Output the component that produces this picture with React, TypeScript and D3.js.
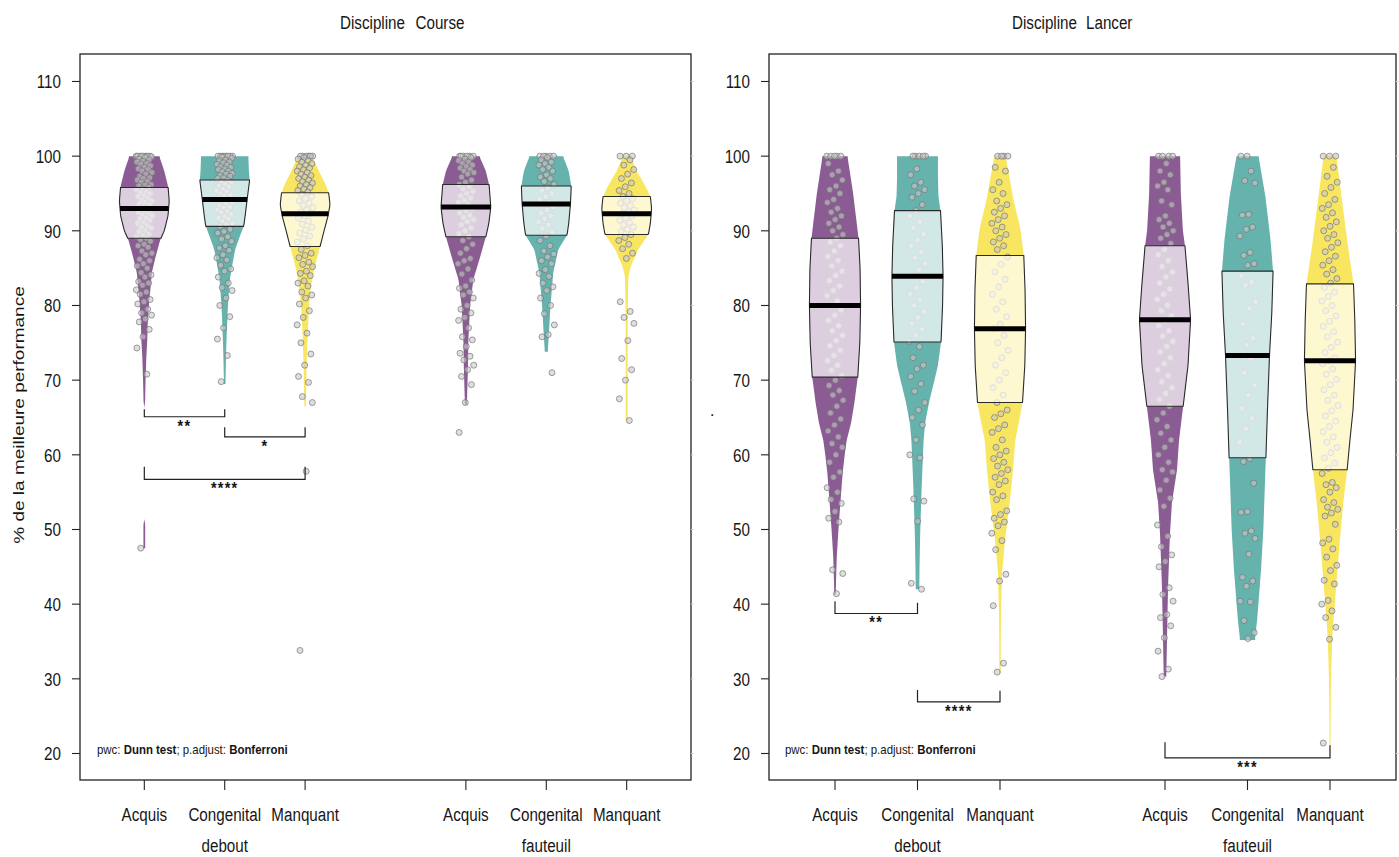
import React from "react";
import * as d3 from "d3";

const PANELS = ["Course", "Lancer"];
const POSTURES = ["debout", "fauteuil"];
const CATEGORIES = ["Acquis", "Congenital", "Manquant"];
const Y_TICKS = [20, 30, 40, 50, 60, 70, 80, 90, 100, 110];
const COLORS = ["#8A5C93", "#66B3AE", "#F9E660"];

// [q1, median, q3] for debout Acquis/Congenital/Manquant then fauteuil Acquis/Congenital/Manquant
const courseQuartiles = [
  [89.0, 93.0, 95.8], [90.6, 94.2, 96.8], [87.9, 92.3, 95.1],
  [89.2, 93.2, 96.2], [89.4, 93.6, 96.0], [89.5, 92.3, 94.6],
];
const lancerQuartiles = [
  [70.4, 80.0, 89.0], [75.1, 83.9, 92.7], [67.0, 76.9, 86.7],
  [66.5, 78.1, 88.0], [59.6, 73.3, 84.6], [58.0, 72.6, 82.9],
];

// relative density profiles [value, density]
const courseDeboutAcquisDensity = [[100,0.6],[98,0.8],[96,0.95],[94,1.0],[92,0.95],[90,0.8],[88.8,0.64],[86.5,0.45],[84.4,0.3],[82,0.24],[80.8,0.2],[78,0.14],[75.5,0.12],[73,0.08],[70,0.05],[67,0.03],[66.4,0],[51.2,0],[50.8,0.035],[47.5,0.035]];
const courseDeboutCongenitalDensity = [[100,0.95],[98,0.97],[96.8,1.0],[94.2,0.9],[92,0.82],[90.6,0.76],[89,0.58],[87.5,0.42],[85,0.28],[83.5,0.21],[80,0.13],[77,0.09],[74,0.06],[71,0.04],[69.5,0.03]];
const courseDeboutManquantDensity = [[100,0.28],[98,0.55],[96,0.85],[95,0.95],[93.5,1.0],[92,0.92],[90,0.76],[87.9,0.6],[86,0.45],[84.4,0.33],[82,0.22],[80,0.16],[76,0.1],[72,0.06],[68,0.04],[66.5,0.03]];
const courseFauteuilAcquisDensity = [[100,0.54],[98,0.8],[96.2,0.93],[93.2,1.0],[91,0.92],[89.2,0.8],[86.6,0.58],[83.5,0.3],[80,0.17],[75.4,0.1],[71.4,0.08],[68,0.05],[66.7,0.04]];
const courseFauteuilCongenitalDensity = [[100,0.67],[98,0.9],[96,1.0],[93.6,0.97],[91,0.9],[89.4,0.83],[87.5,0.48],[84.4,0.28],[80,0.17],[76,0.1],[73.8,0.06]];
const courseFauteuilManquantDensity = [[100,0.15],[98,0.4],[96,0.75],[94.6,0.95],[93,1.0],[91,0.95],[89.5,0.87],[87.5,0.46],[85.3,0.17],[83.9,0.07],[80,0.045],[75,0.04],[70,0.04],[64.6,0.04]];

const lancerDeboutAcquisDensity = [[100,0.49],[99,0.53],[95,0.71],[89,0.92],[85,0.98],[80,1.0],[75,0.97],[70.4,0.89],[67,0.76],[64.3,0.63],[62,0.46],[60,0.38],[57.6,0.3],[53.1,0.2],[50,0.135],[46.4,0.07],[43,0.04],[41.3,0.03]];
const lancerDeboutCongenitalDensity = [[100,0.8],[97,0.8],[94.6,0.82],[92.7,0.9],[88,0.97],[83.9,1.0],[80,0.98],[75.1,0.92],[72,0.8],[70.1,0.67],[67,0.45],[64.3,0.3],[62,0.24],[58,0.19],[55.4,0.16],[50,0.11],[48.7,0.1],[45,0.08],[42,0.07]];
const lancerDeboutManquantDensity = [[100,0.22],[97,0.38],[94.6,0.5],[90.2,0.8],[86.7,0.93],[82,0.98],[76.9,1.0],[72,0.97],[67,0.88],[64,0.72],[62,0.6],[57.6,0.5],[53.1,0.36],[48.7,0.2],[44.2,0.08],[38.9,0.04],[35,0.03],[30.7,0.03]];
const lancerFauteuilAcquisDensity = [[100,0.59],[95,0.62],[90,0.7],[88,0.78],[83,0.9],[78.1,1.0],[72,0.9],[66.5,0.71],[62,0.55],[58,0.47],[53.6,0.27],[49.1,0.19],[42.4,0.12],[35.7,0.08],[30.3,0.05]];
const lancerFauteuilCongenitalDensity = [[100,0.43],[94.6,0.7],[88.8,0.9],[84.6,1.0],[79,0.95],[73.3,0.86],[66,0.78],[59.6,0.72],[58,0.7],[50,0.62],[44.6,0.53],[38,0.38],[35.5,0.3],[35.2,0.3]];
const lancerFauteuilManquantDensity = [[100,0.25],[94.6,0.45],[88,0.7],[82.9,0.92],[78,0.97],[72.6,1.0],[66,0.9],[62,0.78],[58,0.67],[53.6,0.52],[49.1,0.4],[42.4,0.24],[35.7,0.09],[30,0.04],[26.8,0.03],[21,0.02]];

// observed points (% of best performance)
const courseDeboutAcquisPoints = [100,100,100,100,100,100,100,100,99.9,99.8,99.6,99.5,99.3,99.2,99,98.9,98.7,98.5,98.3,98.2,98,97.8,97.6,97.3,97.1,97,96.8,96.6,96.5,96.2,96.1,96,95.8,95.6,95.5,95.2,95.1,95,94.7,94.6,94.4,94.1,94,93.8,93.6,93.5,93.2,93.1,93,93,92.8,92.6,92.5,92.2,92.1,92,91.7,91.6,91.4,91.1,91,90.7,90.5,90.4,90,89.9,89.6,89.4,89.2,89,88.8,88.6,88.2,88,87.8,87.3,87,86.8,86.2,86,85.6,85.3,85,84.4,84.1,83.8,83.2,83,82.7,82.1,81.8,81.5,80.8,80.5,80.2,79.5,79,78.7,78.2,77.8,76.8,75.8,74.3,70.8,47.5];
const courseDeboutCongenitalPoints = [100,100,100,100,100,100,100,100,99.9,99.7,99.5,99.4,99.2,99.1,98.9,98.8,98.6,98.5,98.3,98.2,98,97.9,97.7,97.6,97.4,97.3,97.1,97,96.8,96.6,96.5,96.2,96,95.9,95.6,95.4,95.3,95,94.8,94.7,94.4,94.2,94,93.8,93.7,93.4,93.2,93.1,92.8,92.6,92.5,92.2,91.9,91.7,91.6,91.3,91,90.8,90.6,90.2,89.9,89.7,89.2,88.9,88.6,88,87.7,87.4,86.8,86.4,86.1,85.4,84.9,84.6,83.8,83,82.4,82,81,80,78.5,77,75.5,73.3,69.8];
const courseDeboutManquantPoints = [100,100,100,100,100,100,99.8,99.6,99.4,99.2,99,98.8,98.6,98.4,98.2,98,97.8,97.6,97.4,97.2,97,96.8,96.6,96.4,96.2,96,95.8,95.6,95.4,95.2,94.9,94.6,94.3,94,93.7,93.4,93.1,92.8,92.5,92.3,92,91.7,91.3,90.9,90.5,90.1,89.7,89.3,88.9,88.5,88,87.5,87,86.7,86.4,85.8,85.5,85.2,84.6,84.3,84,83.3,83,82.6,81.8,81.4,81,80.2,79.3,78.4,77.4,76.3,75,73.5,72,70.5,69.7,67.8,67,57.8,33.8];
const courseFauteuilAcquisPoints = [100,100,100,100,100,100,99.8,99.6,99.4,99.2,99,98.8,98.6,98.4,98.2,98,97.8,97.6,97.2,96.8,96.5,96.2,95.9,95.6,95.3,95,94.7,94.4,94.1,93.8,93.5,93.2,93,92.7,92.4,92.1,91.8,91.5,91.2,90.8,90.4,90,89.6,89.2,88.7,88.2,87.6,87,86.3,86,85.6,84.9,84.2,83.4,82.6,82.3,81.8,81.4,81,80,79.5,79,78.4,78,77,75.8,75.4,74.5,73.6,73.2,72.7,72,71.4,70.5,69.4,67,63];
const courseFauteuilCongenitalPoints = [100,100,100,100,100,99.8,99.5,99.2,99,98.8,98.5,98.2,98,97.5,97.2,97,96.6,96.2,95.8,95.4,95,94.6,94.2,93.8,93.5,93.2,92.8,92.4,92,91.6,91.2,90.8,90.3,89.8,89.3,88.7,88,87.3,86.9,86.5,86,85.6,84.8,84.3,83.9,83,82.5,82,81,80,78.9,77.4,76.1,75.8,71];
const courseFauteuilManquantPoints = [100,100,100,99.5,98.8,98.2,97.6,97,96.4,95.9,95.4,95,94.6,94.3,94,93.7,93.4,93.1,92.8,92.5,92.3,92,91.7,91.4,91.1,90.8,90.5,90.2,89.9,89.5,89.1,88.7,88.2,87.6,87,86.3,80.5,79.2,78.4,77.6,75.3,72.9,71.4,70,67.5,64.6];

const lancerDeboutAcquisPoints = [100,100,100,100,100,99,98,97.5,96.8,96,95.5,95,94.2,93.8,93,92.5,92,91.5,91,90.5,90,89.5,89,88.5,88,87.3,86.6,86,85.3,84.6,84,83.3,82.6,82,81.3,80.6,80,79.4,78.7,78,77.3,76.6,76,75.3,74.6,74,73.3,72.6,72,71.3,70.6,70,69.3,68.6,68,67.3,66.5,65.6,64.8,64,63.2,62.4,61.5,61,60,59,57.7,57,55.6,55,54,53.5,52.4,51.5,51,44.6,44.1,41.4];
const lancerDeboutCongenitalPoints = [100,100,100,100,100,98.3,97.5,96.5,96,95.5,95,94.5,93.5,92.7,92,91.2,90.4,89.6,88.8,88,87.2,86.4,85.6,84.8,84,83.2,82.4,81.6,80.8,80,79.2,78.4,77.6,76.8,76,75.2,74.5,73,72,71.5,70.5,69.5,68.5,67,66,65,64,62,60,59.6,54.1,53.8,51.1,42.8,42];
const lancerDeboutManquantPoints = [100,100,100,100,98.5,98,96.5,95.5,95,94,93.5,93,92.5,92,91.5,91,90.5,90,89.5,89,88.5,88,87.5,86.5,85.5,84.5,83.5,82.5,81.5,80.5,79.5,78.5,77.5,76.9,76,75,74,73,72,71,70,69,68,67,66,65.5,65,64,63.5,63,62,61,60.5,60,59.5,59,58.5,58,57.5,57,56.5,56,55,54.5,54,52.5,52,51.5,51,50.5,49.5,48.5,47.3,44,43.1,39.8,32.1,30.9];
const lancerFauteuilAcquisPoints = [100,100,100,100,99,98,97.5,96.5,96,95.5,94,93.5,92,91.5,91,90.5,90,89.5,89,88.3,87.5,86.8,86,85.2,84.5,83.8,83,82.2,81.5,80.8,80,79.3,78.6,78,77.3,76.6,75.9,75.2,74.5,73.8,73,72.2,71.4,70.6,69.8,69,68.2,67.4,66.5,65.6,64.7,63.8,62.9,62,61,60,59,58,57.7,56.6,55.3,54.2,53.1,50.6,49.1,47.7,46.6,45.7,45,42.2,41.3,40.4,38.6,38.2,37.1,35.5,33.7,31.3,30.3];
const lancerFauteuilCongenitalPoints = [100,100,98,96.7,96.4,92.2,92.1,90.5,90.2,89.3,87.1,86.7,85.6,85.4,84,83.1,82.7,80.5,79.6,77.5,75.6,74.7,73.3,72.9,71,69.3,68,66.2,64.9,63.5,61.7,59.5,59.1,56.2,52.4,52.3,49.8,49.5,48.8,46.7,43.6,43.1,42.4,40.4,40.3,37.8,36.2,35.4];
const lancerFauteuilManquantPoints = [100,100,100,98.5,97.3,96.5,95.8,95,94.2,93.5,93,92.4,91.8,91.2,90.6,90,89.5,89,88.4,87.8,87.2,86.6,86,85.4,84.8,84.2,83.6,83,82.4,81.8,81.2,80.6,80,79.3,78.6,77.9,77.2,76.5,75.8,75.1,74.4,73.7,73,72.6,72.2,71.5,70.8,70.1,69.4,68.7,68,67.3,66.6,65.9,65.2,64.5,63.8,63.1,62.4,61.7,61,60.3,59.6,58.9,58.2,57.5,56.3,56,55.6,55,54,53.6,53,52.7,52.2,51.8,50.7,48.7,48.2,47.4,46.3,45.2,44.5,43.2,42.7,40.5,40,39.1,38.2,36.9,35.3,21.4];

// Dunn test brackets: category positions, bracket level and tick tops (in % units)
const courseBrackets = [
  { a: 1, b: 2, level: 65.1, topA: 66.1, topB: 66.1, label: "**" },
  { a: 2, b: 3, level: 62.4, topA: 63.7, topB: 63.7, label: "*" },
  { a: 1, b: 3, level: 56.7, topA: 58.4, topB: 58.4, label: "****" },
];
const lancerBrackets = [
  { a: 1, b: 2, level: 38.75, topA: 40.4, topB: 40.2, label: "**" },
  { a: 2, b: 3, level: 26.9, topA: 28.5, topB: 28.4, label: "****" },
  { a: 5, b: 7, level: 19.4, topA: 21.5, topB: 21.1, label: "***" },
];

const panelData = [
  {
    name: PANELS[0],
    quartiles: courseQuartiles,
    densities: [courseDeboutAcquisDensity, courseDeboutCongenitalDensity, courseDeboutManquantDensity, courseFauteuilAcquisDensity, courseFauteuilCongenitalDensity, courseFauteuilManquantDensity],
    points: [courseDeboutAcquisPoints, courseDeboutCongenitalPoints, courseDeboutManquantPoints, courseFauteuilAcquisPoints, courseFauteuilCongenitalPoints, courseFauteuilManquantPoints],
    brackets: courseBrackets,
    yTitle: "% de la meilleure performance",
  },
  {
    name: PANELS[1],
    quartiles: lancerQuartiles,
    densities: [lancerDeboutAcquisDensity, lancerDeboutCongenitalDensity, lancerDeboutManquantDensity, lancerFauteuilAcquisDensity, lancerFauteuilCongenitalDensity, lancerFauteuilManquantDensity],
    points: [lancerDeboutAcquisPoints, lancerDeboutCongenitalPoints, lancerDeboutManquantPoints, lancerFauteuilAcquisPoints, lancerFauteuilCongenitalPoints, lancerFauteuilManquantPoints],
    brackets: lancerBrackets,
    yTitle: ".",
  },
];

const FONT = "'Liberation Sans', Arial, Helvetica, sans-serif";
const SX = 0.8;
const HALF_W = 0.31;
const JITTER = 0.1;

const layouts = [
  { left: 80, right: 691, titleA: 340, titleB: 415.5, pwcX: 97 },
  { left: 769, right: 1396, titleA: 1012, titleB: 1086, pwcX: 785 },
];
const TOP = 54;
const BOTTOM = 780;

function sampleProfile(profile: number[][]) {
  const sorted = [...profile].sort((a, b) => a[0] - b[0]);
  const lo = sorted[0][0];
  const hi = sorted[sorted.length - 1][0];
  const step = 0.1;
  const raw: number[][] = [];
  for (let v = lo; v <= hi + 1e-9; v += step) {
    let k = 0;
    while (k < sorted.length - 2 && sorted[k + 1][0] < v) k++;
    const [v0, d0] = sorted[k];
    const [v1, d1] = sorted[k + 1];
    const t = v1 === v0 ? 0 : Math.max(0, Math.min(1, (v - v0) / (v1 - v0)));
    raw.push([v, d0 + (d1 - d0) * t]);
  }
  raw[raw.length - 1][0] = hi;
  const win = 3;
  return raw.map((p, i) => {
    let s = 0, n = 0;
    for (let j = Math.max(0, i - win); j <= Math.min(raw.length - 1, i + win); j++) {
      s += raw[j][1];
      n++;
    }
    return [p[0], s / n];
  });
}

function interpAt(samples: number[][], v: number) {
  for (let i = 0; i < samples.length - 1; i++) {
    if (samples[i][0] <= v && samples[i + 1][0] >= v) {
      const t = (v - samples[i][0]) / (samples[i + 1][0] - samples[i][0] || 1);
      return samples[i][1] + (samples[i + 1][1] - samples[i][1]) * t;
    }
  }
  return 0;
}

function T(props: any) {
  const { x, y, size = 19, anchor = "middle", sx = SX, weight, children, rotate } = props;
  const tr = rotate
    ? `translate(${x},${y}) scale(${sx},1) rotate(-90)`
    : `translate(${x},${y}) scale(${sx},1)`;
  return (
    <text
      transform={tr}
      textAnchor={anchor}
      fontSize={size}
      fontFamily={FONT}
      fontWeight={weight}
      fill="#161616"
      style={{ whiteSpace: "pre" }}
    >
      {children}
    </text>
  );
}

function Panel({ data, layout }: any) {
  const x = d3.scaleLinear().domain([0.2, 7.8]).range([layout.left, layout.right]);
  const y = d3.scaleLinear().domain([16.45, 113.68]).range([BOTTOM, TOP]);
  const halfPx = x(HALF_W) - x(0);
  const jitPx = x(JITTER) - x(0);

  const groups = data.densities.map((dens: number[][], i: number) => {
    const posture = Math.floor(i / 3);
    const cat = i % 3;
    const pos = posture * 4 + cat + 1;
    return { pos, cat, posture, dens, q: data.quartiles[i], pts: data.points[i] };
  });

  return (
    <g>
      <T x={layout.titleA} y={29} anchor="start">Discipline</T>
      <T x={layout.titleB} y={29} anchor="start">{data.name}</T>

      {groups.map((g: any, gi: number) => {
        const cx = x(g.pos);
        const samples = sampleProfile(g.dens);
        const area = d3
          .area<number[]>()
          .y((d) => y(d[0]))
          .x0((d) => cx - d[1] * halfPx)
          .x1((d) => cx + d[1] * halfPx);
        const [q1, med, q3] = g.q;
        const inner = [
          [q1, interpAt(samples, q1)],
          ...samples.filter((s) => s[0] > q1 && s[0] < q3),
          [q3, interpAt(samples, q3)],
        ];
        const innerLine = d3
          .line<number[]>()
          .x((d) => d[0])
          .y((d) => d[1]);
        const outline = [
          ...inner.map((d) => [cx - d[1] * halfPx, y(d[0])]),
          ...inner.slice().reverse().map((d) => [cx + d[1] * halfPx, y(d[0])]),
        ];
        const wMed = interpAt(samples, med) * halfPx;
        return (
          <g key={gi}>
            <path d={area(samples) || ""} fill={COLORS[g.cat]} stroke="none" />
            {g.pts.map((v: number, k: number) => {
              const off = (((k * 0.6180339887 + gi * 0.37) % 1) - 0.5) * 2 * jitPx;
              return (
                <circle
                  key={k}
                  cx={cx + off}
                  cy={y(v)}
                  r={3}
                  fill="rgba(200,200,200,0.6)"
                  stroke="rgba(115,115,115,0.85)"
                  strokeWidth={0.8}
                />
              );
            })}
            <path
              d={(innerLine(outline as any) || "") + "Z"}
              fill="rgba(255,255,255,0.7)"
              stroke="#2a2a2a"
              strokeWidth={1.1}
            />
            <line x1={cx - wMed} x2={cx + wMed} y1={y(med)} y2={y(med)} stroke="#000" strokeWidth={5} />
          </g>
        );
      })}

      {data.brackets.map((b: any, i: number) => {
        const xa = x(b.a);
        const xb = x(b.b);
        const yl = y(b.level);
        return (
          <g key={i}>
            <path
              d={`M${xa},${y(b.topA)}V${yl}H${xb}V${y(b.topB)}`}
              fill="none"
              stroke="#222"
              strokeWidth={1.2}
            />
            <T x={(xa + xb) / 2} y={yl + 15} size={17} sx={0.85} weight="bold">
              <tspan letterSpacing="1.5">{b.label}</tspan>
            </T>
          </g>
        );
      })}

      <rect
        x={layout.left}
        y={TOP}
        width={layout.right - layout.left}
        height={BOTTOM - TOP}
        fill="none"
        stroke="#222"
        strokeWidth={1.3}
      />

      {Y_TICKS.map((t) => (
        <g key={t}>
          <line x1={layout.left - 8} x2={layout.left} y1={y(t)} y2={y(t)} stroke="#222" strokeWidth={1.1} />
          <line x1={layout.right} x2={layout.right + 3} y1={y(t)} y2={y(t)} stroke="#ddd" strokeWidth={1} />
          <T x={layout.left - 19} y={y(t) + 7} anchor="end">{String(t)}</T>
        </g>
      ))}
      <T x={layout.left - 56} y={415} rotate>{data.yTitle}</T>

      {groups.map((g: any, gi: number) => (
        <g key={gi}>
          <line x1={x(g.pos)} x2={x(g.pos)} y1={BOTTOM} y2={BOTTOM + 10} stroke="#222" strokeWidth={1.1} />
          <T x={x(g.pos)} y={821}>{CATEGORIES[g.cat]}</T>
        </g>
      ))}
      {POSTURES.map((p, pi) => (
        <T key={p} x={x(pi * 4 + 2)} y={852}>{p}</T>
      ))}

      <T x={layout.pwcX} y={753.5} anchor="start" size={13} sx={0.88}>
        pwc: <tspan fontWeight="bold">Dunn test</tspan>; p.adjust: <tspan fontWeight="bold">Bonferroni</tspan>
      </T>
    </g>
  );
}

export default function App() {
  return (
    <svg
      width={1399}
      height={857}
      viewBox="0 0 1399 857"
      style={{ position: "absolute", left: 0, top: 0, background: "#fff" }}
    >
      <rect x={0} y={0} width={1399} height={857} fill="#fff" />
      {panelData.map((d, i) => (
        <Panel key={d.name} data={d} layout={layouts[i]} />
      ))}
    </svg>
  );
}
